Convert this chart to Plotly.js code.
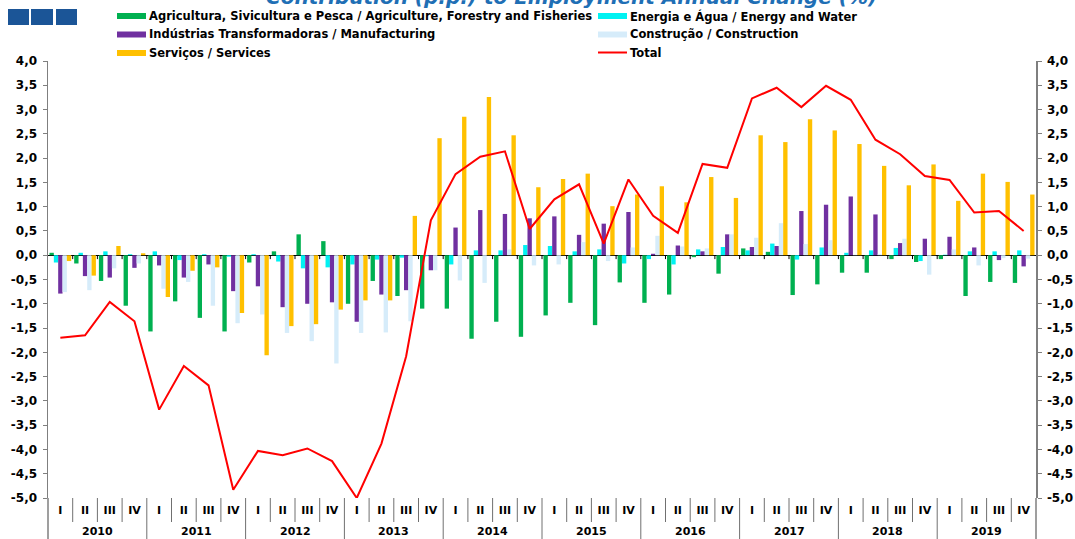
<!DOCTYPE html>
<html>
<head>
<meta charset="utf-8">
<script src="https://cdn.plot.ly/plotly-3.0.1.min.js"></script>
<style>html,body{margin:0;padding:0;background:#fff;}#chart{width:1075px;height:539px;}</style>
</head>
<body>
<div id="chart"></div>
<script>
// ---- Data ----
const years = ['2010','2011','2012','2013','2014','2015','2016','2017','2018','2019'];
const quarters = ['I','II','III','IV'];

const seriesNames = [
  'Agricultura, Sivicultura e Pesca / Agriculture, Forestry and Fisheries',
  'Energia e Água / Energy and Water',
  'Indústrias Transformadoras / Manufacturing',
  'Construção / Construction',
  'Serviços / Services',
  'Total'
];

const agriculture = [
  0.05, -0.17, -0.53, -1.04,
  -1.57, -0.95, -1.29, -1.57,
  -0.15, 0.08, 0.43, 0.29,
  -1.00, -0.53, -0.84, -1.10,
  -1.10, -1.72, -1.37, -1.68,
  -1.24, -0.98, -1.44, -0.56,
  -0.98, -0.81, -0.04, -0.38,
  0.14, 0.07, -0.82, -0.60,
  -0.36, -0.36, -0.08, -0.14,
  -0.08, -0.84, -0.55, -0.57
];
const energy = [
  -0.15, 0.05, 0.08, 0.02,
  0.08, -0.10, 0.02, -0.03,
  0.02, -0.13, -0.27, -0.25,
  -0.19, -0.09, -0.05, -0.02,
  -0.19, 0.10, 0.10, 0.21,
  0.19, 0.08, 0.12, -0.17,
  -0.08, -0.19, 0.12, 0.17,
  0.10, 0.24, -0.09, 0.16,
  0.05, 0.10, 0.15, -0.12,
  0.01, 0.08, 0.08, 0.10
];
const manufacturing = [
  -0.79, -0.43, -0.46, -0.26,
  -0.21, -0.46, -0.19, -0.74,
  -0.64, -1.07, -1.00, -0.97,
  -1.37, -0.81, -0.72, -0.31,
  0.57, 0.93, 0.85, 0.76,
  0.80, 0.42, 0.65, 0.89,
  0.03, 0.20, 0.08, 0.43,
  0.17, 0.19, 0.91, 1.04,
  1.21, 0.84, 0.25, 0.34,
  0.38, 0.16, -0.10, -0.23
];
const construction = [
  -0.76, -0.72, -0.27, -0.17,
  -0.69, -0.55, -1.04, -1.40,
  -1.22, -1.60, -1.77, -2.23,
  -1.60, -1.59, -1.36, -0.31,
  -0.52, -0.57, 0.12, -0.21,
  -0.19, 0.27, -0.12, 0.16,
  0.40, 0.18, 0.14, 0.43,
  0.36, 0.66, 0.23, 0.31,
  0.01, 0.02, 0.34, -0.40,
  0.12, -0.21, -0.06, -0.07
];
const services = [
  -0.12, -0.42, 0.19, 0.04,
  -0.86, -0.32, -0.25, -1.19,
  -2.06, -1.46, -1.42, -1.12,
  -0.93, -0.93, 0.81, 2.41,
  2.85, 3.26, 2.47, 1.40,
  1.57, 1.68, 1.01, 1.25,
  1.42, 1.09, 1.61, 1.18,
  2.47, 2.33, 2.80, 2.57,
  2.29, 1.84, 1.44, 1.87,
  1.12, 1.68, 1.51, 1.25
];
const total = [
  -1.70, -1.65, -0.96, -1.36,
  -3.18, -2.28, -2.68, -4.83,
  -4.03, -4.12, -3.98, -4.24,
  -5.00, -3.88, -2.08, 0.72,
  1.67, 2.03, 2.14, 0.54,
  1.15, 1.46, 0.24, 1.56,
  0.81, 0.46, 1.88, 1.80,
  3.23, 3.45, 3.05, 3.49,
  3.20, 2.38, 2.08, 1.63,
  1.55, 0.88, 0.91, 0.50
];

const yTickVals = [-5,-4.5,-4,-3.5,-3,-2.5,-2,-1.5,-1,-0.5,0,0.5,1,1.5,2,2.5,3,3.5,4];
const yTickLabels = ['-5,0','-4,5','-4,0','-3,5','-3,0','-2,5','-2,0','-1,5','-1,0','-0,5','0,0','0,5','1,0','1,5','2,0','2,5','3,0','3,5','4,0'];

const titleText = 'Contribution (p.p.) to Employment Annual Change (%)';

// ---- Build categories ----
const periods = [];
const periodQuarter = [];
years.forEach(y => quarters.forEach(q => { periods.push(q + ' ' + y); periodQuarter.push(q); }));

// ---- Styles ----
const colors = ['#00B050', '#00F2F2', '#7030A0', '#D6ECFA', '#FFC000', '#FF0000'];
const FONT = 'DejaVu Sans, Liberation Sans, Arial, sans-serif';
const W = 1075, H = 539;
const M = {l: 48, r: 39, t: 61, b: 41};
const PW = W - M.l - M.r, PH = H - M.t - M.b;
const px2x = px => (px - M.l) / PW;
const px2y = py => (H - M.b - py) / PH;

const barSeries = [agriculture, energy, manufacturing, construction, services];
const traces = barSeries.map((vals, i) => ({
  type: 'bar', x: periods, y: vals, name: seriesNames[i],
  marker: {color: colors[i], line: {width: 0}},
  xaxis: 'x', yaxis: 'y', hoverinfo: 'skip'
}));
traces.push({
  type: 'scatter', mode: 'lines', x: periods, y: total, name: seriesNames[5],
  line: {color: colors[5], width: 2}, xaxis: 'x', yaxis: 'y2', hoverinfo: 'skip'
});

// ---- Decorations ----
const shapes = [];
const annotations = [];
const n = periods.length;
for (let i = 1; i < n; i++) {
  const isYear = i % quarters.length === 0;
  shapes.push({type: 'line', xref: 'x', yref: 'paper', x0: i - 0.5, x1: i - 0.5,
    y0: 0, y1: isYear ? px2y(H + 2) : px2y(522), line: {color: '#707070', width: 1}});
  shapes.push({type: 'line', xref: 'x', yref: 'y', x0: i - 0.5, x1: i - 0.5,
    y0: 0, y1: -0.08, line: {color: '#000', width: 1}});
}
// axis line extensions below the plot
[0, 1].forEach(xp => shapes.push({type: 'line', xref: 'paper', yref: 'paper', x0: xp, x1: xp,
  y0: 0, y1: px2y(H + 2), line: {color: '#7f7f7f', width: 1.5}}));

// year labels
years.forEach((y, k) => annotations.push({
  xref: 'x', yref: 'paper', x: k * quarters.length + (quarters.length - 1) / 2, y: px2y(531),
  text: y, showarrow: false, xanchor: 'center', yanchor: 'middle',
  font: {family: FONT, size: 11, color: '#000', weight: 'bold'}
}));

// logo squares
[[8, 29], [31, 53], [56, 77]].forEach(([a, b]) => shapes.push({
  type: 'rect', xref: 'paper', yref: 'paper', x0: px2x(a), x1: px2x(b), y0: px2y(25), y1: px2y(9),
  fillcolor: '#1B5597', line: {width: 0}
}));

// custom legend
const legPos = [[117, 16], [598, 16], [117, 34.5], [598, 34.5], [117, 53], [598, 53]];
seriesNames.forEach((name, i) => {
  const [lx, ly] = legPos[i];
  if (i < 5) {
    shapes.push({type: 'rect', xref: 'paper', yref: 'paper', x0: px2x(lx), x1: px2x(lx + 29),
      y0: px2y(ly + 3), y1: px2y(ly - 3), fillcolor: colors[i], line: {width: 0}});
  } else {
    shapes.push({type: 'line', xref: 'paper', yref: 'paper', x0: px2x(lx), x1: px2x(lx + 29),
      y0: px2y(ly - 0.5), y1: px2y(ly - 0.5), line: {color: colors[i], width: 2}});
  }
  annotations.push({xref: 'paper', yref: 'paper', x: px2x(lx + 30), y: px2y(ly),
    text: name, showarrow: false, xanchor: 'left', yanchor: 'middle',
    font: {family: FONT, size: 11.5, color: '#000', weight: 'bold'}});
});

// title (partially cut at the top, as in the reference)
annotations.push({xref: 'paper', yref: 'paper', x: px2x(571), y: 1, yshift: 50,
  text: titleText, showarrow: false, xanchor: 'center', yanchor: 'bottom',
  font: {family: FONT, size: 20, color: '#1F6FB5', weight: 'bold', style: 'italic'}});

const yCommon = {
  range: [-5, 4], tickvals: yTickVals, ticktext: yTickLabels,
  showline: true, linecolor: '#7f7f7f', linewidth: 1.5,
  ticks: 'outside', ticklen: 4, tickcolor: '#7f7f7f', tickwidth: 1,
  showgrid: false, fixedrange: true, ticklabelstandoff: 3,
  tickfont: {family: FONT, size: 12, color: '#000', weight: 'bold'}
};

const layout = {
  width: W, height: H, margin: M,
  paper_bgcolor: '#fff', plot_bgcolor: '#fff',
  showlegend: false, barmode: 'group', bargap: 0.12, bargroupgap: 0,
  xaxis: {type: 'category', range: [-0.5, n - 0.5], tickvals: periods, ticktext: periodQuarter,
    ticks: '', showline: false, showgrid: false, zeroline: false, fixedrange: true,
    ticklabelstandoff: 4,
    tickfont: {family: FONT, size: 11, color: '#000', weight: 'bold'}},
  yaxis: Object.assign({}, yCommon, {side: 'left', zeroline: true, zerolinecolor: '#000', zerolinewidth: 1}),
  yaxis2: Object.assign({}, yCommon, {side: 'right', overlaying: 'y', zeroline: false}),
  shapes: shapes, annotations: annotations
};

Plotly.newPlot('chart', traces, layout, {staticPlot: true, displayModeBar: false});
</script>
</body>
</html>
